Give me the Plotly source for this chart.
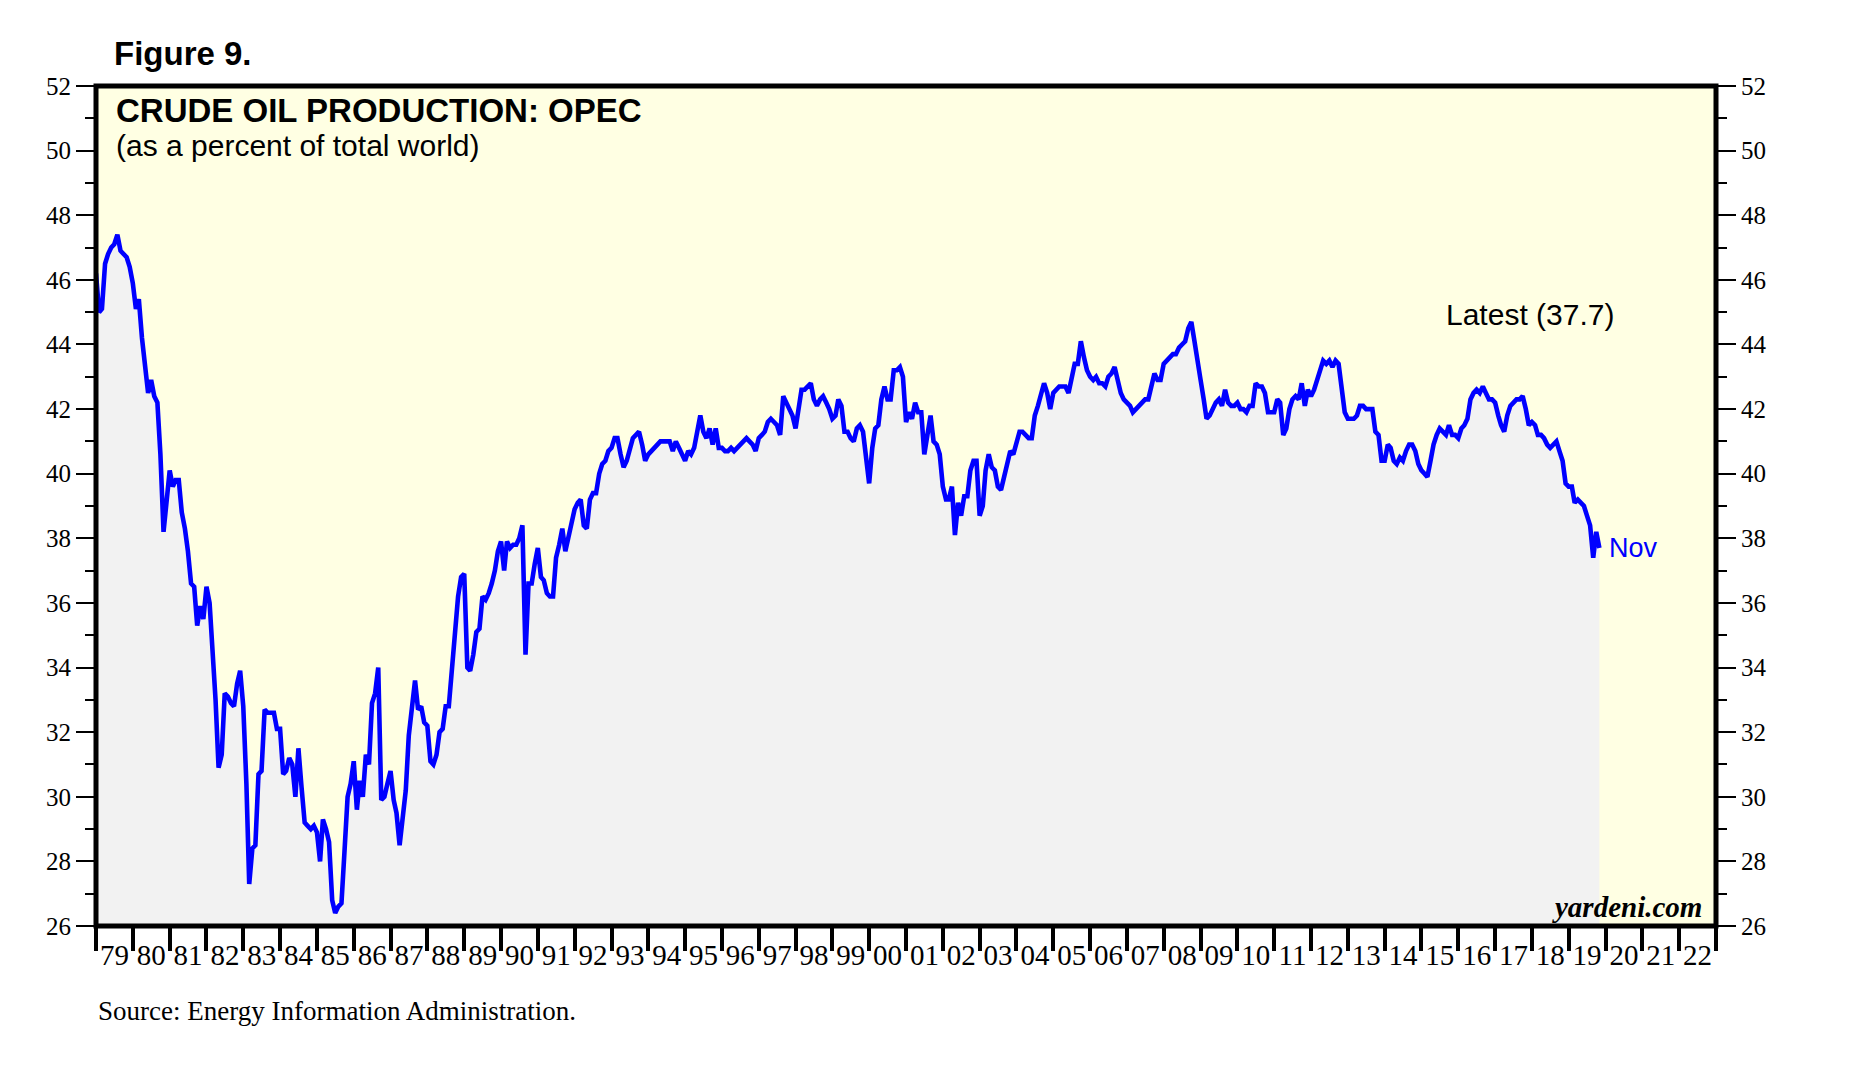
import pandas as pd
import plotly.graph_objects as go

# ---------------- data (monthly, % of world crude output) ----------------
start_month = "1979-01-01"

share_1979_1988 = [
    46.2, 45.0, 45.1, 46.5, 46.8, 47.0, 47.1, 47.4, 46.9, 46.8, 46.7, 46.4,  # 1979
    45.9, 45.1, 45.4, 44.2, 43.3, 42.5, 42.9, 42.4, 42.2, 40.6, 38.2, 39.2,  # 1980
    40.1, 39.6, 39.8, 39.8, 38.8, 38.3, 37.6, 36.6, 36.5, 35.3, 35.9, 35.5,  # 1981
    36.5, 36.0, 34.8, 33.0, 30.9, 31.3, 33.2, 33.1, 32.9, 32.8, 33.5, 33.9,  # 1982
    32.8, 30.4, 27.3, 28.4, 28.5, 30.7, 30.8, 32.7, 32.6, 32.6, 32.6, 32.1,  # 1983
    32.1, 30.7, 30.8, 31.2, 31.0, 30.0, 31.5, 30.3, 29.2, 29.1, 29.0, 29.1,  # 1984
    28.9, 28.0, 29.3, 29.0, 28.6, 26.8, 26.4, 26.6, 26.7, 28.3, 30.0, 30.4,  # 1985
    31.1, 29.6, 30.5, 30.0, 31.3, 31.0, 32.9, 33.2, 34.0, 29.9, 30.0, 30.4,  # 1986
    30.8, 29.9, 29.5, 28.5, 29.3, 30.2, 31.9, 32.9, 33.6, 32.7, 32.8, 32.3,  # 1987
    32.2, 31.1, 31.0, 31.3, 32.0, 32.1, 32.8, 32.8, 34.1, 35.0, 36.2, 36.8,  # 1988
]
share_1989_1998 = [
    36.9, 34.0, 33.9, 34.4, 35.1, 35.2, 36.2, 36.1, 36.3, 36.6, 37.0, 37.6,  # 1989
    37.9, 37.0, 37.9, 37.7, 37.8, 37.8, 38.0, 38.4, 34.4, 36.6, 36.6, 37.2,  # 1990
    37.7, 36.8, 36.7, 36.3, 36.2, 36.2, 37.4, 37.8, 38.3, 37.6, 38.0, 38.4,  # 1991
    38.9, 39.1, 39.2, 38.4, 38.3, 39.2, 39.4, 39.4, 40.0, 40.3, 40.4, 40.7,  # 1992
    40.8, 41.1, 41.1, 40.6, 40.2, 40.4, 40.8, 41.1, 41.2, 41.3, 40.9, 40.4,  # 1993
    40.6, 40.7, 40.8, 40.9, 41.0, 41.0, 41.0, 41.0, 40.7, 41.0, 40.8, 40.6,  # 1994
    40.4, 40.7, 40.6, 40.8, 41.4, 41.8, 41.3, 41.1, 41.4, 40.9, 41.4, 40.8,  # 1995
    40.8, 40.7, 40.7, 40.8, 40.7, 40.8, 40.9, 41.0, 41.1, 41.0, 40.9, 40.7,  # 1996
    41.1, 41.2, 41.3, 41.6, 41.7, 41.6, 41.5, 41.2, 42.4, 42.2, 42.0, 41.8,  # 1997
    41.4, 42.1, 42.6, 42.6, 42.7, 42.8, 42.3, 42.1, 42.3, 42.4, 42.2, 42.0,  # 1998
]
share_1999_2008 = [
    41.7, 41.8, 42.3, 42.1, 41.3, 41.3, 41.1, 41.0, 41.4, 41.5, 41.3, 40.6,  # 1999
    39.7, 40.8, 41.4, 41.5, 42.3, 42.7, 42.3, 42.3, 43.2, 43.2, 43.3, 43.0,  # 2000
    41.6, 41.9, 41.7, 42.2, 41.9, 41.9, 40.6, 41.2, 41.8, 41.0, 40.9, 40.6,  # 2001
    39.6, 39.2, 39.2, 39.6, 38.1, 39.1, 38.7, 39.3, 39.3, 40.1, 40.4, 40.4,  # 2002
    38.7, 39.0, 40.1, 40.6, 40.2, 40.1, 39.6, 39.5, 39.9, 40.3, 40.7, 40.6,  # 2003
    41.0, 41.3, 41.3, 41.2, 41.1, 41.1, 41.8, 42.1, 42.5, 42.8, 42.5, 42.0,  # 2004
    42.5, 42.6, 42.7, 42.7, 42.7, 42.5, 43.0, 43.4, 43.4, 44.1, 43.6, 43.2,  # 2005
    43.0, 42.9, 43.0, 42.8, 42.8, 42.7, 43.0, 43.1, 43.3, 42.9, 42.5, 42.3,  # 2006
    42.2, 42.1, 41.9, 42.0, 42.1, 42.2, 42.3, 42.3, 42.7, 43.1, 42.9, 42.9,  # 2007
    43.4, 43.5, 43.6, 43.7, 43.7, 43.9, 44.0, 44.1, 44.5, 44.7, 44.1, 43.4,  # 2008
]
share_2009_2019 = [
    42.9, 42.3, 41.7, 41.8, 42.0, 42.2, 42.3, 42.1, 42.6, 42.2, 42.1, 42.1,  # 2009
    42.2, 42.0, 42.0, 41.9, 42.1, 42.1, 42.8, 42.7, 42.7, 42.5, 41.9, 41.9,  # 2010
    41.9, 42.3, 42.2, 41.2, 41.4, 42.0, 42.3, 42.4, 42.3, 42.8, 42.1, 42.6,  # 2011
    42.4, 42.6, 42.9, 43.3, 43.5, 43.4, 43.5, 43.3, 43.5, 43.4, 42.5, 41.9,  # 2012
    41.7, 41.7, 41.7, 41.8, 42.1, 42.1, 42.0, 42.0, 42.0, 41.3, 41.2, 40.4,  # 2013
    40.4, 40.9, 40.8, 40.4, 40.3, 40.5, 40.4, 40.7, 40.9, 40.9, 40.7, 40.3,  # 2014
    40.1, 40.0, 39.9, 40.4, 40.9, 41.2, 41.4, 41.3, 41.2, 41.5, 41.2, 41.2,  # 2015
    41.1, 41.4, 41.5, 41.7, 42.3, 42.5, 42.6, 42.5, 42.7, 42.5, 42.3, 42.3,  # 2016
    42.2, 41.8, 41.5, 41.3, 41.8, 42.1, 42.2, 42.3, 42.3, 42.4, 42.0, 41.5,  # 2017
    41.6, 41.5, 41.2, 41.2, 41.1, 40.9, 40.8, 40.9, 41.0, 40.7, 40.4, 39.7,  # 2018
    39.6, 39.6, 39.1, 39.2, 39.1, 39.0, 38.7, 38.4, 37.4, 38.2, 37.7,        # 2019
]

opec_share = share_1979_1988 + share_1989_1998 + share_1999_2008 + share_2009_2019
dates = pd.date_range(start_month, periods=len(opec_share), freq="MS")

x_range = ["1979-01-01", "2023-01-01"]
y_range = [26, 52]

fig_label = "Figure 9."
title_text = "CRUDE OIL PRODUCTION: OPEC"
subtitle_text = "(as a percent of total world)"
latest_text = "Latest (37.7)"
last_month_text = "Nov"
brand_text = "yardeni.com"
source_text = "Source: Energy Information Administration."

# ---------------- layout geometry ----------------
W, H = 1874, 1068
L, R, T, B = 96, 158, 86, 142
PW, PH = W - L - R, H - T - B


def px(xp):
    return (xp - L) / PW


def py(yp):
    return (H - B - yp) / PH


SANS = "Liberation Sans, Arial, sans-serif"
SERIF = "Liberation Serif, Times New Roman, serif"
BLUE = "#0000FF"

fig = go.Figure()
fig.add_trace(go.Scatter(
    x=dates, y=opec_share, mode="lines",
    line=dict(color=BLUE, width=4.6),
    fill="tozeroy", fillcolor="#F2F2F2",
    hoverinfo="skip", showlegend=False,
))
fig.add_trace(go.Scatter(
    x=dates, y=opec_share, mode="lines", yaxis="y2",
    line=dict(width=0), opacity=0, hoverinfo="skip", showlegend=False,
))

yaxis_common = dict(
    range=y_range, dtick=2, tick0=26,
    ticks="outside", ticklen=19, tickwidth=2, tickcolor="black",
    minor=dict(dtick=1, tick0=26, ticks="outside", ticklen=10, tickwidth=2, tickcolor="black"),
    showgrid=False, zeroline=False, showline=False,
    tickfont=dict(family=SERIF, size=25, color="black"),
    fixedrange=True,
)

fig.update_layout(
    width=W, height=H,
    margin=dict(l=L, r=R, t=T, b=B, pad=0),
    paper_bgcolor="white",
    plot_bgcolor="#FFFFE3",
    showlegend=False,
    xaxis=dict(
        type="date", range=x_range,
        tick0="1979-01-01", dtick="M12", tickformat="%y",
        ticklabelmode="period",
        ticks="outside", ticklen=24, tickwidth=4, tickcolor="black",
        showgrid=False, zeroline=False, showline=False,
        tickfont=dict(family=SERIF, size=29, color="black"),
        ticklabelstandoff=-21,
    ),
    yaxis=dict(side="left", **yaxis_common),
    yaxis2=dict(side="right", overlaying="y", anchor="x", **yaxis_common),
    shapes=[dict(
        type="rect", xref="paper", yref="paper", x0=0, x1=1, y0=0, y1=1,
        line=dict(color="black", width=5), fillcolor="rgba(0,0,0,0)", layer="above",
    )],
)

annos = [
    dict(text="<b>" + fig_label + "</b>", x=px(112), y=py(54), font=dict(family=SANS, size=33)),
    dict(text="<b>" + title_text + "</b>", x=px(114), y=py(110), font=dict(family=SANS, size=33)),
    dict(text=subtitle_text, x=px(114), y=py(146), font=dict(family=SANS, size=30)),
    dict(text=latest_text, x=px(1444), y=py(314), font=dict(family=SANS, size=30)),
    dict(text=source_text, x=px(96), y=py(1011), font=dict(family=SERIF, size=27)),
]
for a in annos:
    fig.add_annotation(xref="paper", yref="paper", xanchor="left", yanchor="middle",
                       showarrow=False, font_color="black", **a)

fig.add_annotation(
    text="<b><i>" + brand_text + "</i></b>", xref="paper", yref="paper",
    x=px(1704), y=py(907), xanchor="right", yanchor="middle", showarrow=False,
    font=dict(family=SERIF, size=29, color="black"),
)
fig.add_annotation(
    text=last_month_text, x=dates[-1], y=opec_share[-1], xref="x", yref="y",
    xanchor="left", yanchor="middle", xshift=8, showarrow=False,
    font=dict(family=SANS, size=27, color=BLUE),
)

fig.write_html(
    "out.html",
    config={"displayModeBar": False},
    post_script="document.body.style.margin='0';document.body.style.overflow='hidden';",
)
